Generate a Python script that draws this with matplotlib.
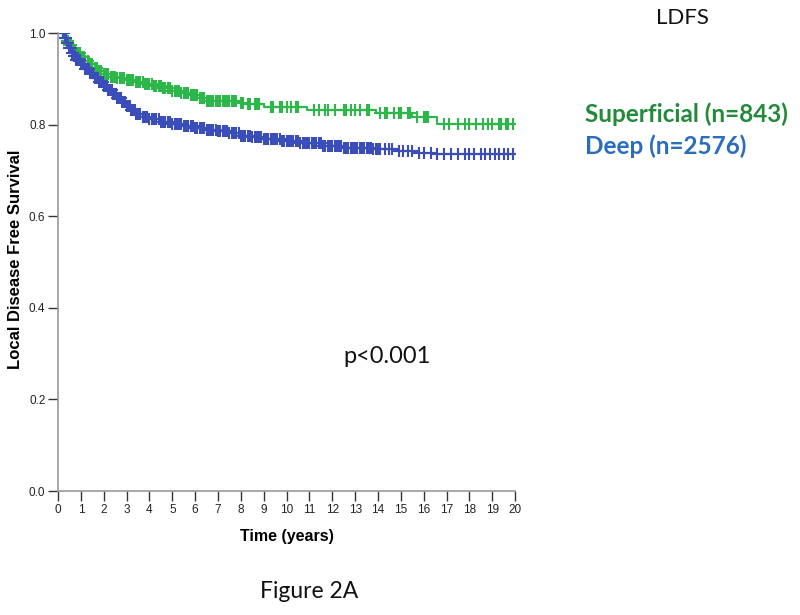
import matplotlib.pyplot as plt
import numpy as np

# Kaplan-Meier step data
sup_time = [0, 0.3, 0.4, 0.5, 0.6, 0.7, 0.8, 1.0, 1.2, 1.4, 1.6, 1.8, 2.0, 2.3, 2.6, 3.0, 3.4, 3.8, 4.2, 4.6,
            5.0, 5.4, 5.8, 6.2, 6.5, 7.9, 8.2, 9.0, 10.9, 13.9, 15.5, 16.6]
sup_surv = [1.0, 0.99, 0.982, 0.974, 0.967, 0.961, 0.956, 0.948, 0.94, 0.932, 0.924, 0.916, 0.91, 0.905, 0.901,
            0.897, 0.893, 0.888, 0.884, 0.879, 0.874, 0.869, 0.864, 0.858, 0.852, 0.848, 0.845, 0.839, 0.832,
            0.825, 0.816, 0.801]
sup_cens = [0.2, 0.25, 0.3, 0.35, 0.4, 0.45, 0.5, 0.55, 0.6, 0.65, 0.7, 0.75, 0.8, 0.85, 0.9, 0.95, 1.0, 1.05,
            1.1, 1.15, 1.2, 1.3, 1.4, 1.45, 1.5, 1.6, 1.7, 1.8, 1.9, 2.0, 2.1, 2.2, 2.3, 2.4, 2.5, 2.6, 2.7, 2.8,
            2.9, 3.0, 3.1, 3.2, 3.3, 3.4, 3.5, 3.6, 3.7, 3.8, 3.9, 4.0, 4.1, 4.2, 4.3, 4.4, 4.5, 4.6, 4.7, 4.8,
            4.9, 5.0, 5.1, 5.2, 5.3, 5.4, 5.5, 5.6, 5.7, 5.8, 5.9, 6.0, 6.1, 6.2, 6.3, 6.4, 6.5, 6.6, 6.7, 6.8,
            6.9, 7.0, 7.1, 7.2, 7.3, 7.4, 7.5, 7.6, 7.7, 7.8, 8.0, 8.1, 8.3, 8.4, 8.6, 8.7, 8.8, 9.3, 9.4, 9.7,
            9.8, 10.0, 10.2, 10.4, 10.5, 11.2, 11.4, 11.7, 11.8, 12.1, 12.5, 12.6, 12.8, 13.0, 13.2, 13.5, 13.6,
            14.1, 14.3, 14.4, 14.7, 14.9, 15.0, 15.3, 15.4, 15.7, 16.0, 16.1, 16.2, 16.9, 17.1, 17.5, 17.8, 18.0,
            18.3, 18.6, 18.8, 19.0, 19.3, 19.4, 19.6, 19.7, 19.9]

deep_time = [0, 0.3, 0.4, 0.5, 0.6, 0.7, 0.8, 1.0, 1.2, 1.4, 1.6, 1.8, 2.0, 2.2, 2.4, 2.6, 2.8, 3.0, 3.2, 3.4,
             3.7, 4.0, 4.5, 5.0, 5.5, 6.0, 6.5, 7.0, 7.5, 8.0, 8.5, 9.0, 9.8, 10.6, 11.6, 12.5, 13.8, 14.8,
             15.7, 16.5]
deep_surv = [1.0, 0.99, 0.979, 0.967, 0.957, 0.949, 0.942, 0.933, 0.922, 0.912, 0.902, 0.893, 0.884, 0.875,
             0.866, 0.858, 0.849, 0.84, 0.831, 0.824, 0.817, 0.812, 0.806, 0.801, 0.797, 0.793, 0.789, 0.786,
             0.781, 0.776, 0.772, 0.768, 0.764, 0.759, 0.753, 0.75, 0.746, 0.742, 0.738, 0.736]
deep_cens = [0.2, 0.25, 0.3, 0.35, 0.4, 0.45, 0.5, 0.55, 0.6, 0.65, 0.7, 0.75, 0.8, 0.85, 0.9, 0.95, 1.0, 1.05,
             1.1, 1.15, 1.2, 1.25, 1.3, 1.35, 1.4, 1.45, 1.5, 1.55, 1.6, 1.65, 1.7, 1.75, 1.8, 1.85, 1.9, 1.95,
             2.0, 2.05, 2.1, 2.15, 2.2, 2.25, 2.3, 2.35, 2.4, 2.45, 2.5, 2.55, 2.6, 2.65, 2.7, 2.75, 2.8, 2.85,
             2.9, 2.95, 3.0, 3.05, 3.1, 3.15, 3.2, 3.25, 3.3, 3.35, 3.4, 3.5, 3.6, 3.7, 3.8, 3.9, 4.0, 4.1,
             4.2, 4.3, 4.4, 4.5, 4.6, 4.7, 4.8, 4.9, 5.0, 5.1, 5.2, 5.3, 5.4, 5.5, 5.6, 5.7, 5.8, 5.9, 6.0, 6.1,
             6.2, 6.3, 6.4, 6.5, 6.6, 6.7, 6.8, 6.9, 7.0, 7.1, 7.2, 7.3, 7.4, 7.5, 7.6, 7.7, 7.8, 7.9, 8.0, 8.1,
             8.2, 8.3, 8.4, 8.5, 8.6, 8.7, 8.8, 8.9, 9.0, 9.1, 9.2, 9.3, 9.4, 9.5, 9.6, 9.7, 9.8, 9.9, 10.0, 10.1,
             10.2, 10.3, 10.4, 10.5, 10.6, 10.7, 10.8, 10.9, 11.0, 11.1, 11.2, 11.3, 11.4, 11.5, 11.6, 11.7,
             11.8, 11.9, 12.0, 12.1, 12.2, 12.3, 12.4, 12.5, 12.6, 12.7, 12.8, 12.9, 13.0, 13.1, 13.2, 13.3,
             13.4, 13.5, 13.6, 13.7, 13.8, 13.9, 14.0, 14.1, 14.3, 14.5, 14.6, 14.9, 15.1, 15.3, 15.5, 15.8,
             16.0, 16.3, 16.6, 16.9, 17.2, 17.5, 17.8, 18.0, 18.2, 18.5, 18.7, 18.9, 19.1, 19.3, 19.5, 19.7,
             19.9]

end_time = 20
green = '#2db64a'
blue = '#3a4db8'

fig = plt.figure(figsize=(8, 6.15), dpi=100)
ax = fig.add_axes([0.0725, 0.2016, 0.5715, 0.7447])


def draw_km(times, surv, cens, color):
    t = list(times) + [end_time]
    s = list(surv) + [surv[-1]]
    ax.step(t, s, where='post', color=color, lw=1.5)
    idx = np.searchsorted(times, cens, side='right') - 1
    ax.plot(cens, np.array(surv)[idx], ls='none', marker='+', ms=8, mew=1.5, color=color)


draw_km(sup_time, sup_surv, sup_cens, green)
draw_km(deep_time, deep_surv, deep_cens, blue)

ax.set_xlim(0, 20)
ax.set_ylim(0, 1.0)
ax.set_xticks(range(0, 21))
ax.set_yticks([0.0, 0.2, 0.4, 0.6, 0.8, 1.0])
ax.set_yticklabels(['0.0', '0.2', '0.4', '0.6', '0.8', '1.0'])
for side in ['top', 'right']:
    ax.spines[side].set_visible(False)
for side in ['left', 'bottom']:
    ax.spines[side].set_color('#9a9a9a')
    ax.spines[side].set_linewidth(1.2)
ax.tick_params(direction='out', length=7, width=1, color='#333333', labelsize=8.5,
               labelcolor='#222222', pad=2)
for lab in ax.get_xticklabels() + ax.get_yticklabels():
    lab.set_family('Liberation Sans')

ax.set_xlabel('Time (years)', family='Liberation Sans', fontweight='bold', fontsize=11.5, labelpad=10)
ax.set_ylabel('Local Disease Free Survival', family='Liberation Sans', fontweight='bold', fontsize=12,
              va='center')
ax.yaxis.set_label_coords(-0.094, 0.505)

fig.text(0.853, 0.97, 'LDFS', family='Lato', fontsize=16, ha='center', va='center', color='#111111')
fig.text(0.731, 0.815, 'Superficial (n=843)', family='Lato', fontweight='bold', fontsize=17.5,
         ha='left', va='center', color='#238a3a')
fig.text(0.731, 0.763, 'Deep (n=2576)', family='Lato', fontweight='bold', fontsize=17.5,
         ha='left', va='center', color='#2a6dbc')
fig.text(0.484, 0.42, 'p<0.001', family='Lato', fontsize=17, ha='center', va='center', color='#111111')
fig.text(0.386, 0.038, 'Figure 2A', family='Lato', fontsize=16.5, ha='center', va='center', color='#111111')

fig.savefig('out.png', dpi=100)
